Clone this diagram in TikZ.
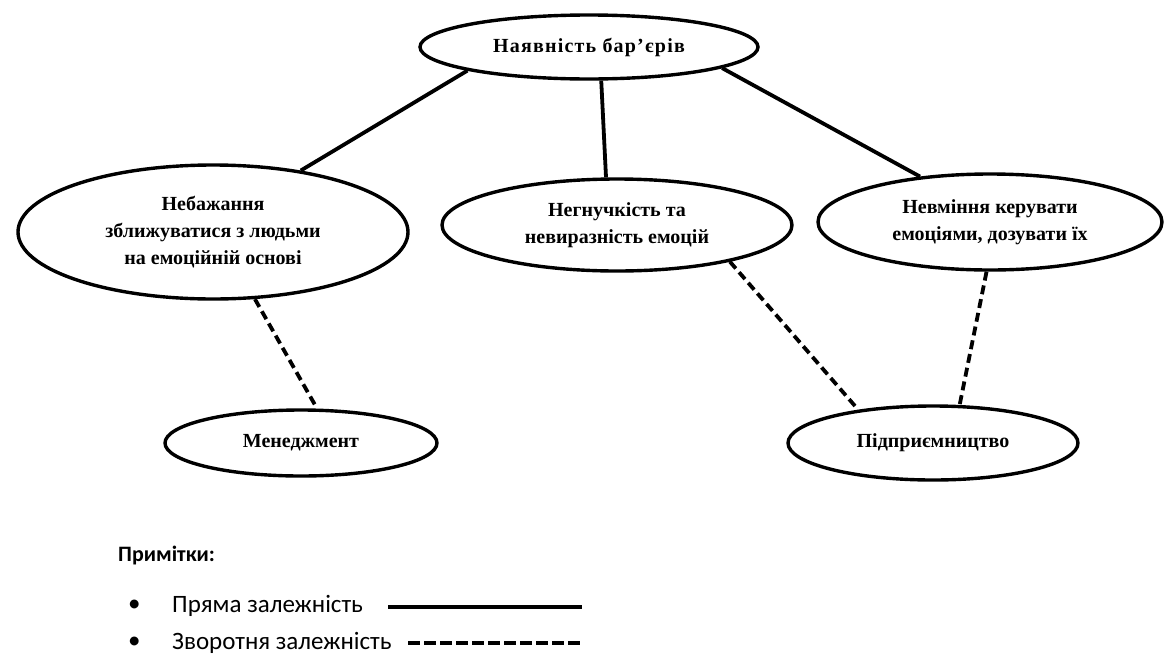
\documentclass[tikz,border=0pt]{standalone}
\usepackage{fontspec}
\setmainfont{Liberation Serif}
\newfontfamily\legendfont{Carlito}
\usetikzlibrary{shapes.geometric}
\begin{document}
\begin{tikzpicture}[x=1pt,y=-1pt,
  oval/.style={ellipse,draw,line width=3.4pt,inner sep=0pt,align=center,
    font=\fontsize{20}{27}\selectfont\bfseries},
  direct/.style={line width=3.8pt},
  inverse/.style={line width=3.8pt,dash pattern=on 9pt off 5pt},
  legtext/.style={anchor=west,inner sep=0pt,font=\legendfont\fontsize{25}{28}\selectfont}]
\useasboundingbox (0,0) rectangle (1173,662);
\node[oval,minimum width=338pt,minimum height=64pt] (bar) at (589,47) {\addfontfeature{LetterSpace=6}Наявність бар’єрів};
\node[oval,minimum width=390pt,minimum height=134pt] (neb) at (213,232) {Небажання\\зближуватися з людьми\\на емоційній основі};
\node[oval,minimum width=350pt,minimum height=92pt] (neg) at (617,225) {Негнучкість та\\невиразність емоцій};
\node[oval,minimum width=344pt,minimum height=96pt] (nev) at (990,222) {Невміння керувати\\емоціями, дозувати їх};
\node[oval,minimum width=272pt,minimum height=66pt] (men) at (301,443) {Менеджмент};
\node[oval,minimum width=290pt,minimum height=74pt] (pid) at (933,443) {Підприємництво};
\draw[direct] (bar.191) -- (neb.35);
\draw[direct] (bar.290) -- (neg.103);
\draw[direct] (bar.351) -- (nev.147);
\draw[inverse] (neb.302) -- (men.65);
\draw[inverse] (neg.342) -- (pid.156);
\draw[inverse] (nev.266) -- (pid.55);
\node[legtext,font=\legendfont\bfseries\fontsize{22}{26}\selectfont] (notes) at (118,556) {Примітки:};
\node[legtext] (b1) at (128,606) {•};
\node[legtext] (t1) at (172,606) {Пряма залежність};
\node[legtext] (b2) at (128,643) {•};
\node[legtext] (t2) at (172,643) {Зворотня залежність};
\coordinate (s1a) at (388,607);
\coordinate (s1b) at (582,607);
\coordinate (s2a) at (408,643);
\coordinate (s2b) at (582,643);
\draw[direct] (s1a) -- (s1b);
\draw[line width=3.8pt,dash pattern=on 12pt off 4pt] (s2a) -- (s2b);
\end{tikzpicture}
\end{document}
